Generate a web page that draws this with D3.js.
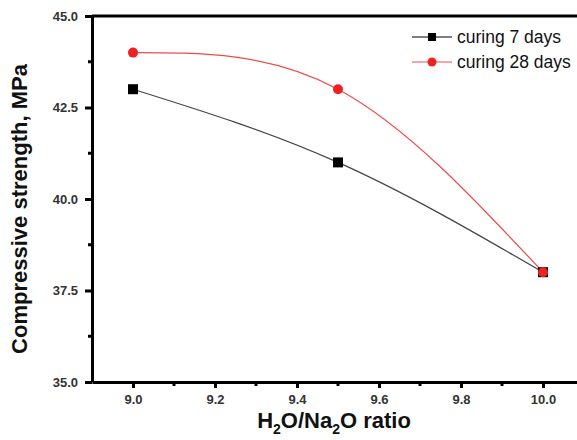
<!DOCTYPE html>
<html>
<head>
<meta charset="utf-8">
<script src="https://cdn.jsdelivr.net/npm/d3@7"></script>
<style>
  body { margin: 0; background: #fff; }
  text { font-family: Arial, "Liberation Sans", sans-serif; }
</style>
</head>
<body>
<script>
// H2O/Na2O ratio vs compressive strength
var ratios = [9.0, 9.5, 10.0];
var days7 = [43.0, 41.0, 38.0];
var days28 = [44.0, 43.0, 38.0];
var seriesNames = ['curing 7 days', 'curing 28 days'];
var xTicks = [9.0, 9.2, 9.4, 9.6, 9.8, 10.0];
var yTicks = [35.0, 37.5, 40.0, 42.5, 45.0];

var W = 577, H = 440;
var svg = d3.select('body').append('svg')
    .attr('width', W)
    .attr('height', H);

var x = d3.scaleLinear().domain([8.9, 10.1]).range([92, 584]);
var y = d3.scaleLinear().domain([35, 45]).range([382, 16]);

// minor ticks
var xMinor = [9.1, 9.3, 9.5, 9.7, 9.9];
var yMinor = [36.25, 38.75, 41.25, 43.75];

var gx = svg.append('g')
  .attr('transform', 'translate(0,' + y(35) + ')');
gx.call(d3.axisBottom(x).tickValues(xTicks).tickFormat(d3.format('.1f')).tickSize(6).tickSizeOuter(0))
  .call(g => g.select('.domain').attr('stroke-width', 3))
  .call(g => g.selectAll('.tick line').attr('stroke-width', 3))
  .call(g => g.selectAll('.tick text')
      .attr('font-size', 13).attr('font-weight', 'bold').attr('fill', '#333').attr('y', 13));
gx.selectAll('.minor').data(xMinor).enter().append('line')
  .attr('x1', d => x(d)).attr('x2', d => x(d))
  .attr('y1', 0).attr('y2', 4)
  .attr('stroke', '#000').attr('stroke-width', 3);

var gy = svg.append('g')
  .attr('transform', 'translate(' + x(8.9) + ',0)');
gy.call(d3.axisLeft(y).tickValues(yTicks).tickFormat(d3.format('.1f')).tickSize(7).tickSizeOuter(0))
  .call(g => g.select('.domain').attr('stroke-width', 3))
  .call(g => g.selectAll('.tick line').attr('stroke-width', 3))
  .call(g => g.selectAll('.tick text')
      .attr('font-size', 13).attr('font-weight', 'bold').attr('fill', '#333').attr('x', -14));
gy.selectAll('.minor').data(yMinor).enter().append('line')
  .attr('x1', 0).attr('x2', -4)
  .attr('y1', d => y(d)).attr('y2', d => y(d))
  .attr('stroke', '#000').attr('stroke-width', 3);

// top frame
svg.append('line')
  .attr('x1', x(8.9)).attr('x2', W)
  .attr('y1', y(45)).attr('y2', y(45))
  .attr('stroke', '#000').attr('stroke-width', 3);

// lines
var line = d3.line()
  .x(d => x(d[0]))
  .y(d => y(d[1]))
  .curve(d3.curveNatural);

var pts7 = ratios.map((r, i) => [r, days7[i]]);
var pts28 = ratios.map((r, i) => [r, days28[i]]);

svg.append('path').attr('d', line(pts7))
  .attr('fill', 'none').attr('stroke', '#444').attr('stroke-width', 1.2);
svg.append('path').attr('d', line(pts28))
  .attr('fill', 'none').attr('stroke', '#f04a4a').attr('stroke-width', 1.2);

svg.selectAll('.sq').data(pts7).enter().append('rect')
  .attr('x', d => x(d[0]) - 5).attr('y', d => y(d[1]) - 5)
  .attr('width', 10).attr('height', 10)
  .attr('fill', '#000');
svg.selectAll('.ci').data(pts28).enter().append('circle')
  .attr('cx', d => x(d[0])).attr('cy', d => y(d[1]))
  .attr('r', 5)
  .attr('fill', '#ee2222');

// legend
var legend = svg.append('g');
var legY = [37, 62];
legend.append('line').attr('x1', 412).attr('x2', 452).attr('y1', legY[0]).attr('y2', legY[0])
  .attr('stroke', '#000').attr('stroke-width', 1.2);
legend.append('rect').attr('x', 428).attr('y', legY[0] - 4).attr('width', 8).attr('height', 8).attr('fill', '#000');
legend.append('line').attr('x1', 412).attr('x2', 452).attr('y1', legY[1]).attr('y2', legY[1])
  .attr('stroke', '#f04a4a').attr('stroke-width', 1.2);
legend.append('circle').attr('cx', 432).attr('cy', legY[1]).attr('r', 4.5).attr('fill', '#ee2222');
legend.selectAll('text').data(seriesNames).enter().append('text')
  .attr('x', 457).attr('y', (d, i) => legY[i])
  .attr('dy', '0.35em')
  .attr('font-size', 17.5)
  .attr('fill', '#111')
  .text(d => d);

// axis titles
svg.append('text')
  .attr('transform', 'translate(27,' + ((y(35) + y(45)) / 2 + 10) + ') rotate(-90)')
  .attr('text-anchor', 'middle')
  .attr('font-size', 22).attr('font-weight', 'bold').attr('fill', '#111')
  .text('Compressive strength, MPa');

var xt = svg.append('text')
  .attr('x', 334).attr('y', 428)
  .attr('text-anchor', 'middle')
  .attr('font-size', 22).attr('font-weight', 'bold').attr('fill', '#111');
xt.append('tspan').text('H');
xt.append('tspan').attr('font-size', 14).attr('dy', 6).text('2');
xt.append('tspan').attr('dy', -6).text('O/Na');
xt.append('tspan').attr('font-size', 14).attr('dy', 6).text('2');
xt.append('tspan').attr('dy', -6).text('O ratio');
</script>
</body>
</html>
